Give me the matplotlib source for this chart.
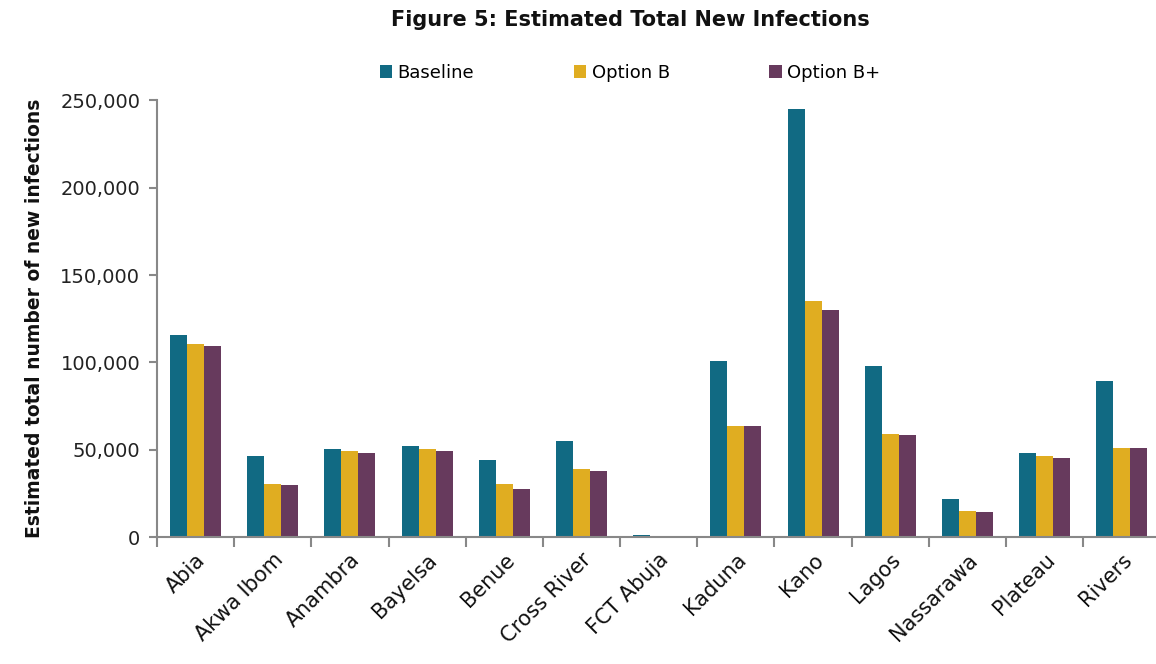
import matplotlib.pyplot as plt
import numpy as np
from matplotlib.ticker import FuncFormatter

states = ['Abia', 'Akwa Ibom', 'Anambra', 'Bayelsa', 'Benue', 'Cross River', 'FCT Abuja',
          'Kaduna', 'Kano', 'Lagos', 'Nassarawa', 'Plateau', 'Rivers']
baseline = [115500, 46700, 50200, 52400, 44000, 55000, 1100, 101000, 245000, 98000, 22100, 48400, 89200]
option_b = [110800, 30700, 49200, 50200, 30500, 39000, 800, 63500, 135000, 59300, 14900, 46300, 51100]
option_bplus = [109400, 30100, 48400, 49500, 27500, 38000, 600, 63500, 129800, 58300, 14500, 45400, 51000]

series_names = ['Baseline', 'Option B', 'Option B+']
colors = ['#116A83', '#E0AD21', '#673A5D']

plt.rcParams['font.family'] = ['DejaVu Sans']

fig = plt.figure(figsize=(11.56, 6.64), dpi=100)
ax = fig.add_axes([0.1358, 0.191, 0.868, 0.658])

x = np.arange(len(states))
w = 0.22
for i, (vals, name, c) in enumerate(zip([baseline, option_b, option_bplus], series_names, colors)):
    ax.bar(x + (i - 1) * w, vals, width=w, color=c, label=name, linewidth=0)

ax.set_xlim(-0.5, len(states) - 0.5)
ax.set_ylim(0, 250000)
ax.set_yticks(range(0, 250001, 50000))
ax.yaxis.set_major_formatter(FuncFormatter(lambda v, p: f'{int(v):,}'))

# ticks sit between the categories, labels at the centres
ax.set_xticks(np.arange(-0.5, len(states), 1.0))
ax.set_xticklabels([])
ax.set_xticks(x, minor=True)
ax.set_xticklabels(states, minor=True, rotation=45, ha='right', rotation_mode='anchor',
                   fontsize=15, color='#111111')
ax.tick_params(axis='x', which='minor', length=0, pad=9)
ax.tick_params(axis='x', which='major', length=7, width=1.5, color='#888888', direction='out')
ax.tick_params(axis='y', length=6, width=1.5, color='#888888', labelsize=14,
               labelcolor='#222222', pad=6)

for s in ['top', 'right']:
    ax.spines[s].set_visible(False)
for s in ['left', 'bottom']:
    ax.spines[s].set_color('#888888')
    ax.spines[s].set_linewidth(1.5)

ax.set_ylabel('Estimated total number of new infections', fontsize=13.5, fontweight='bold',
              color='#111111', labelpad=12)

fig.suptitle('Figure 5: Estimated Total New Infections', fontsize=15, fontweight='bold',
             x=0.545, y=0.985, color='#111111')

fig.legend(loc='center', bbox_to_anchor=(0.545, 0.89), ncol=3, frameon=False, fontsize=13,
           handlelength=0.7, handleheight=0.7, handletextpad=0.3, columnspacing=5.5)

plt.savefig('out.png', dpi=100)
